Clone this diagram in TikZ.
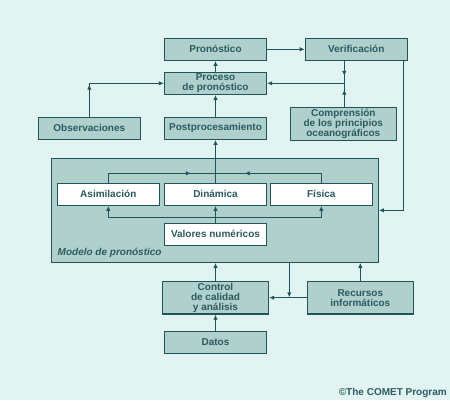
\documentclass[tikz,border=0pt]{standalone}
\usepackage{fontspec}
\setmainfont{Liberation Sans}
\usetikzlibrary{arrows.meta,decorations.markings,calc}
\definecolor{bg}{HTML}{E2F4F2}
\definecolor{bx}{HTML}{B0D0CE}
\definecolor{ln}{HTML}{1F5458}
\definecolor{tx}{HTML}{2B5A5E}
\begin{document}
\begin{tikzpicture}[x=1pt,y=-1pt,
  box/.style={draw=ln,fill=bx,line width=1.2pt,text=tx,font=\bfseries\fontsize{10}{10}\selectfont,align=center,inner sep=0pt,minimum height=22pt,minimum width=102pt},
  wbox/.style={box,fill=white},
  conn/.style={draw=ln,line width=1.2pt},
  tip/.style={-{Latex[length=5pt,width=4.5pt]}},
  mk/.style={postaction={decorate},decoration={markings,mark=at position #1 with {\arrow{Latex[length=5pt,width=4.5pt]}}}},
  lbl/.style={text=tx,inner sep=0pt}]
\path[fill=bg] (0,0) rectangle (450,400);
\useasboundingbox (0,0) rectangle (450,400);
% top part
\node[box] (pron) at (215.5,49.3) {Pronóstico};
\node[box] (verif) at (356.3,49.3) {Verificación};
\node[box] (proc) at (215.5,83.3) {Proceso\\de pronóstico};
\node[box] (obs) at (89.3,128.3) {Observaciones};
\node[box] (post) at (215.5,128.3) {Postprocesamiento};
\node[box,minimum width=106pt,minimum height=33pt] (comp) at (343.3,123.8) {Comprensión\\de los principios\\oceanográficos};
% model
\node[box,minimum width=326.6pt,minimum height=104pt] (modelo) at (215,210.3) {};
\node[wbox] (asim) at (108.3,194.3) {Asimilación};
\node[wbox] (din) at (215.5,194.3) {Dinámica};
\node[wbox] (fis) at (321.3,194.3) {Física};
\node[wbox] (val) at (215.5,234.3) {Valores numéricos};
\node[lbl,anchor=west,font=\bfseries\itshape\fontsize{10}{10}\selectfont] (mlabel) at (57.5,253.3) {Modelo de pronóstico};
% bottom
\node[box,minimum width=106pt,minimum height=32.7pt] (ctrl) at (215.5,297.7) {Control\\de calidad\\y análisis};
\node[box,minimum width=106pt,minimum height=32.7pt] (rec) at (360.3,297.7) {Recursos\\informáticos};
\node[box] (datos) at (215.5,342.3) {Datos};
\node[lbl,anchor=east,font=\bfseries\fontsize{10}{10}\selectfont] (copy) at (447,392.7) {©The COMET Program};
% junctions
\coordinate (j1) at (344.3,83.3);
\coordinate (j2) at (403.7,210.3);
\coordinate (tj) at (215.5,173.3);
\coordinate (bj) at (215.5,217.3);
\coordinate (j3) at (289.3,297.3);
% connectors
\draw[conn,tip] (pron.east) -- (verif.west);
\draw[conn,tip] (proc) -- (pron);
\draw[conn,tip,mk=32pt] (obs.north) |- (proc.west);
\draw[conn,tip] (post) -- (proc);
\draw[conn,tip,mk=15pt] (verif.south -| j1) -- (j1) -- (proc.east);
\draw[conn,mk=17pt] (comp.north -| j1) -- (j1);
\draw[conn,tip] (verif.south -| j2) -- (j2) -- (modelo.east |- j2);
\draw[conn,tip] (din.north) -- (din.north |- post.south);
\draw[conn,mk=92pt] (asim.north) |- (tj);
\draw[conn,mk=86pt] (fis.north) |- (tj);
\draw[conn,tip] (val.north) -- (din.south);
\draw[conn,tip] (bj) -| (asim.south);
\draw[conn,tip] (bj) -| (fis.south);
\draw[conn,tip] (datos) -- (ctrl);
\draw[conn,tip] (ctrl.north) -- (ctrl.north |- modelo.south);
\draw[conn,tip] (rec.north) -- (rec.north |- modelo.south);
\draw[conn,tip] (j3 |- modelo.south) -- (j3);
\draw[conn,tip] (rec.west) -- (ctrl.east);
\end{tikzpicture}
\end{document}
